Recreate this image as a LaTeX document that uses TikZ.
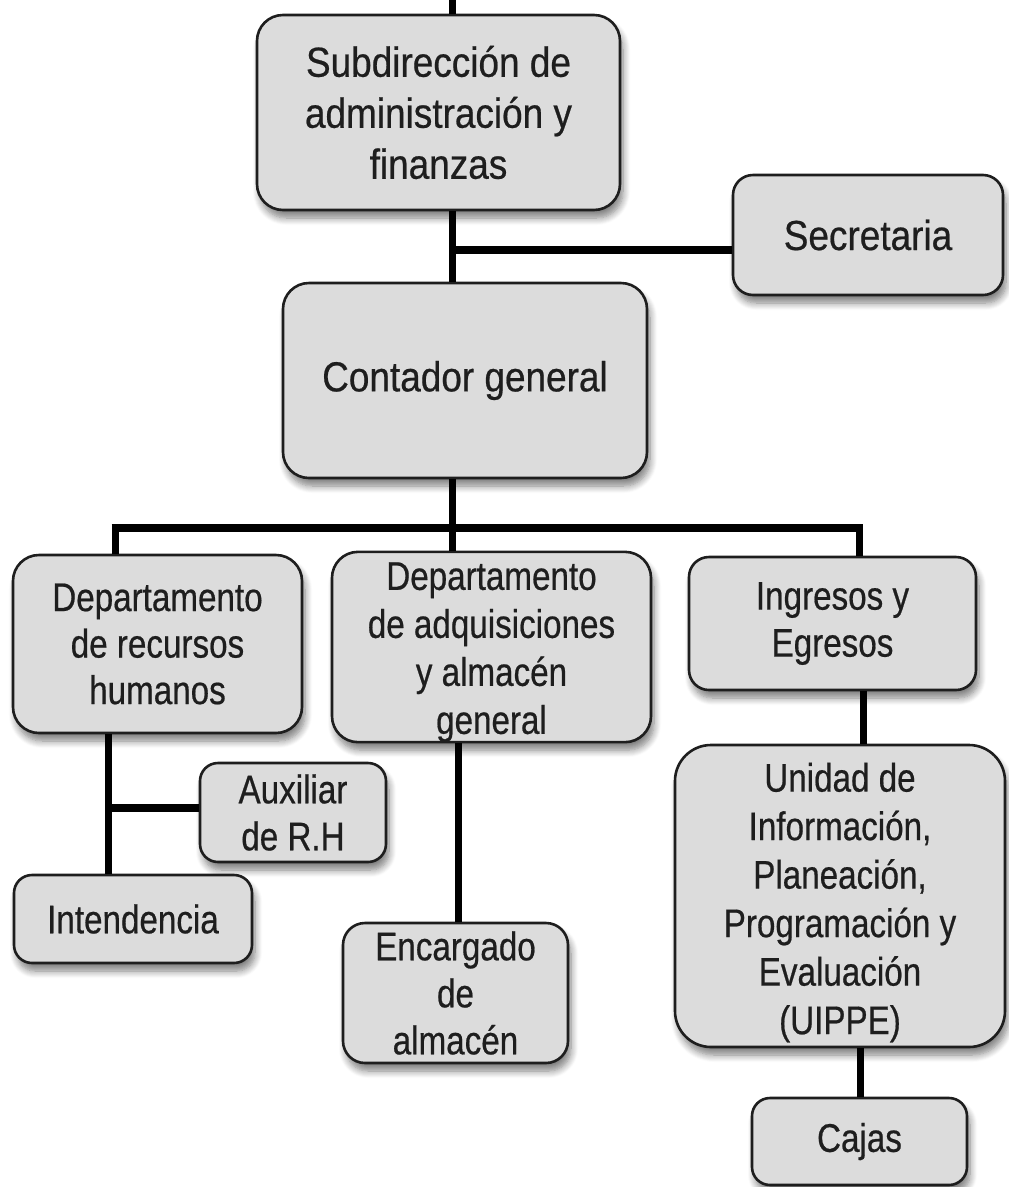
\documentclass[tikz,border=0pt]{standalone}
\usepackage{fontspec}
\setmainfont{Liberation Sans}[FakeStretch=0.83, FakeBold=0.5]
\newfontfamily\bigfont{Liberation Sans}[FakeStretch=0.88, FakeBold=0.5]
\usetikzlibrary{shadows.blur}
\definecolor{boxgray}{HTML}{DCDCDC}
\definecolor{ink}{HTML}{1E1E1E}
\tikzset{
  box/.style={draw=ink, line width=2.6pt, fill=boxgray, rounded corners=26pt,
    align=center, inner sep=0pt, text=ink,
    font=\fontsize{40}{47}\selectfont,
    blur shadow={shadow xshift=3pt, shadow yshift=-8pt, shadow blur radius=7pt,
      shadow blur steps=8, shadow opacity=50}},
  bigbox/.style={box, font=\bigfont\fontsize{42}{51}\selectfont},
  smallbox/.style={box, rounded corners=18pt},
  conn/.style={draw=black, line width=7pt},
  hconn/.style={draw=black, line width=8pt}
}
\begin{document}
\begin{tikzpicture}[x=1pt, y=-1pt]
\useasboundingbox (0,0) rectangle (1009,1187);
% boxes
\node[bigbox, minimum width=363pt, minimum height=195pt] (sub) at (438.5,112.5)
  {Subdirección de\\administración y\\finanzas};
\node[bigbox, rounded corners=20pt, minimum width=270pt, minimum height=120pt] (sec) at (868,235)
  {Secretaria};
\node[bigbox, minimum width=364pt, minimum height=195pt] (cont) at (465,380.5)
  {Contador general};
\node[box, font=\fontsize{40}{46.5}\selectfont, minimum width=289pt, minimum height=178pt] (rh) at (157.5,644)
  {Departamento\\de recursos\\humanos};
\node[box, font=\fontsize{40}{48}\selectfont, minimum width=319pt, minimum height=190pt] (adq) at (491.5,647)
  {\rule{0pt}{38pt}Departamento\\de adquisiciones\\y almacén\\general};
\node[box, rounded corners=20pt, minimum width=287pt, minimum height=133pt] (ing) at (832.5,623.5)
  {Ingresos y\\Egresos};
\node[smallbox, minimum width=186pt, minimum height=99pt] (aux) at (293,812.5)
  {Auxiliar\\de R.H};
\node[smallbox, minimum width=238pt, minimum height=88pt] (int) at (133,919)
  {Intendencia};
\node[smallbox, rounded corners=22pt, minimum width=225pt, minimum height=140pt] (enc) at (455.5,993)
  {Encargado\\de\\almacén};
\node[box, font=\fontsize{40}{48.5}\selectfont, rounded corners=36pt, minimum width=330pt, minimum height=302pt] (uip) at (840,896)
  {\rule{0pt}{42pt}Unidad de\\Información,\\Planeación,\\Programación y\\Evaluación\\(UIPPE)};
\node[smallbox, minimum width=215pt, minimum height=87pt] (caj) at (859.5,1141.5)
  {Cajas};
% connectors
\coordinate (top) at (452,0);
\coordinate (bsec) at (452,250);
\coordinate (xl) at (115,528);
\coordinate (xr) at (859,528);
\coordinate (vrh) at (108,0);
\coordinate (baux) at (108,808);
\coordinate (vadq) at (458,0);
\coordinate (ving) at (863,0);
\coordinate (vuip) at (860,0);
\draw[conn] (top) -- (top |- sub.north);
\draw[conn] (top |- sub.south) -- (top |- cont.north);
\draw[hconn] (bsec) -- (bsec -| sec.west);
\draw[conn] (top |- cont.south) -- (top |- adq.north);
\draw[hconn] ([xshift=-3.5pt]xl) -- ([xshift=3.5pt]xr);
\draw[conn] (xl) -- (xl |- rh.north);
\draw[conn] (xr) -- (xr |- ing.north);
\draw[conn] (vrh |- rh.south) -- (vrh |- int.north);
\draw[hconn] (baux) -- (baux -| aux.west);
\draw[conn] (vadq |- adq.south) -- (vadq |- enc.north);
\draw[conn] (ving |- ing.south) -- (ving |- uip.north);
\draw[conn] (vuip |- uip.south) -- (vuip |- caj.north);
\end{tikzpicture}
\end{document}
